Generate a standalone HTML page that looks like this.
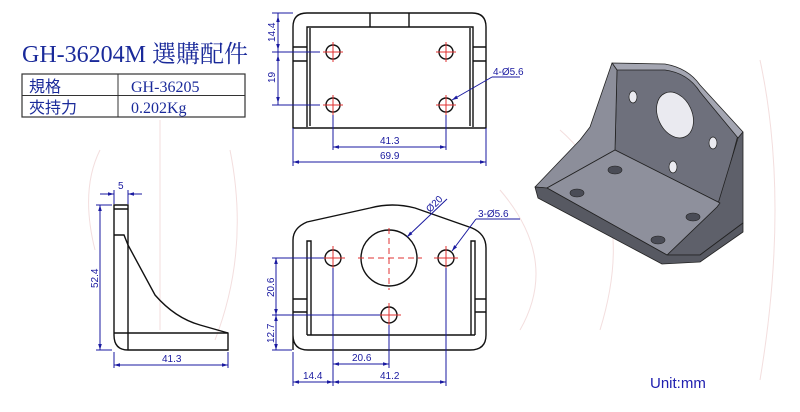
<!DOCTYPE html>
<html><head><meta charset="utf-8"><style>
html,body{margin:0;padding:0;background:#fff;}
svg{display:block;}
.b{stroke:#1a1aa0;stroke-width:1;fill:none;}
.k{stroke:#111;stroke-width:1.4;fill:none;}
.r{stroke:#e03030;stroke-width:1;fill:none;}
.rd{stroke:#e03030;stroke-width:1;fill:none;stroke-dasharray:6,4;}
.t{font-family:"Liberation Sans",sans-serif;font-size:10px;fill:#1a1aa0;}
</style></head><body>
<svg width="800" height="412" viewBox="0 0 800 412" xmlns="http://www.w3.org/2000/svg">
<defs>
<marker id="a" viewBox="0 0 10 10" refX="10" refY="5" markerWidth="6" markerHeight="6" orient="auto-start-reverse"><path d="M0,2 L10,5 L0,8z" fill="#1a1aa0"/></marker>
</defs>
<g stroke="#f3dede" stroke-width="1" fill="none">
<path d="M100,150 Q80,190 95,250 M160,120 L160,330 M230,150 Q250,250 215,340"/>
<path d="M500,190 Q560,260 520,330 M560,130 Q640,200 600,330 M760,60 Q790,200 760,380"/>
</g>
<text x="22" y="62" font-family="Liberation Serif,'Noto Serif CJK SC',serif" font-size="24" fill="#1a2a9a">GH-36204M 選購配件</text>
<g font-family="Liberation Serif,'Noto Sans CJK TC',serif" font-size="16" fill="#1a2a9a">
<rect x="22" y="74" width="223" height="43" fill="none" stroke="#333" stroke-width="1.2"/>
<line x1="22" y1="95.5" x2="245" y2="95.5" stroke="#333"/>
<line x1="118" y1="74" x2="118" y2="117" stroke="#333"/>
<text x="29" y="92">規格</text><text x="131" y="92">GH-36205</text>
<text x="29" y="113">夾持力</text><text x="131" y="113">0.202Kg</text>
</g>

<!-- TOP VIEW -->
<path class="k" d="M293,128 L293,27 Q293,13 307,13 L472,13 Q486,13 486,27 L486,128 Z"/>
<path class="k" d="M307,127 L307,27 L473,27 L473,127"/>
<line class="k" x1="310" y1="28" x2="310" y2="126" stroke-width="1"/>
<line class="k" x1="470" y1="28" x2="470" y2="126" stroke-width="1"/>
<line class="k" x1="370" y1="13" x2="370" y2="27"/><line class="k" x1="409" y1="13" x2="409" y2="27"/>
<path class="k" stroke-width="1" d="M293,47 L307,47 M293,61 L307,61 M473,47 L486,47 M473,61 L486,61"/>
<circle class="k" cx="333" cy="52" r="7"/><circle class="k" cx="446" cy="52" r="7"/>
<circle class="k" cx="333" cy="105" r="7"/><circle class="k" cx="446" cy="105" r="7"/>
<path class="r" d="M323,52h20M333,42v20M436,52h20M446,42v20M323,105h20M333,95v20M436,105h20M446,95v20"/>
<path class="b" d="M272,13h21M272,52h48M272,105h48M278,13v92"/>
<line class="b" x1="278" y1="16" x2="278" y2="50" marker-start="url(#a)" marker-end="url(#a)"/>
<line class="b" x1="278" y1="55" x2="278" y2="103" marker-start="url(#a)" marker-end="url(#a)"/>
<text class="t" transform="translate(275,42) rotate(-90)">14.4</text>
<text class="t" transform="translate(275,83) rotate(-90)">19</text>
<path class="b" d="M333,115v35M446,115v35M293,128v38M486,128v38"/>
<line class="b" x1="333" y1="147" x2="446" y2="147" marker-start="url(#a)" marker-end="url(#a)"/>
<line class="b" x1="293" y1="162" x2="486" y2="162" marker-start="url(#a)" marker-end="url(#a)"/>
<text class="t" x="380" y="144">41.3</text><text class="t" x="380" y="159">69.9</text>
<path class="b" d="M520,77 L492,77"/><line class="b" x1="492" y1="77" x2="452" y2="100" marker-end="url(#a)"/>
<text class="t" x="493" y="75">4-Ø5.6</text>

<!-- SIDE VIEW -->
<path class="k" d="M114,205 L128,205 L128,245 L155,295 Q175,318 200,325 L228,333 L228,350 L128,350 Q114,350 114,335 Z"/>
<path class="k" stroke-width="1" d="M114,209h14M114,235h10l4,10M128,245v105M114,333h114"/>
<path class="b" d="M114,190v14M128,190v14"/>
<line class="b" x1="100" y1="194" x2="114" y2="194" marker-end="url(#a)"/><line class="b" x1="142" y1="194" x2="128" y2="194" marker-end="url(#a)"/>
<text class="t" x="118" y="189">5</text>
<path class="b" d="M96,205h16M96,350h16"/>
<line class="b" x1="100" y1="205" x2="100" y2="350" marker-start="url(#a)" marker-end="url(#a)"/>
<text class="t" transform="translate(98,288) rotate(-90)">52.4</text>
<path class="b" d="M114,352v16M228,352v16"/>
<line class="b" x1="114" y1="365" x2="228" y2="365" marker-start="url(#a)" marker-end="url(#a)"/>
<text class="t" x="162" y="362">41.3</text>

<!-- FRONT VIEW -->
<path class="k" d="M293,350 L293,240 Q293,228 307,222 L370,208 Q392,202 415,208 L472,228 Q486,234 486,248 L486,335 Q486,350 470,350 L308,350 Q293,350 293,335"/>
<path class="k" stroke-width="1" d="M307,335 L307,241 L311,241 L311,335 M471,335 L471,241 L475,241 L475,335 M307,335 L475,335 M293,299h14M293,312h14M475,299h11M475,312h11"/>
<circle class="k" cx="389" cy="258" r="28"/>
<circle class="k" cx="333" cy="258" r="8"/><circle class="k" cx="446" cy="258" r="8"/><circle class="k" cx="389" cy="315" r="8"/>
<path class="rd" d="M358,258h64M389,228v62"/>
<path class="r" d="M321,258h24M333,246v24M434,258h24M446,246v24M377,315h24M389,303v24"/>
<path class="b" d="M272,258h52M272,315h108M272,350h20"/>
<line class="b" x1="276" y1="258" x2="276" y2="315" marker-start="url(#a)" marker-end="url(#a)"/>
<line class="b" x1="276" y1="315" x2="276" y2="350" marker-start="url(#a)" marker-end="url(#a)"/>
<text class="t" transform="translate(274,297) rotate(-90)">20.6</text>
<text class="t" transform="translate(274,343) rotate(-90)">12.7</text>
<path class="b" d="M333,268v118M389,325v43M446,268v118M293,352v34"/>
<line class="b" x1="333" y1="364" x2="389" y2="364" marker-start="url(#a)" marker-end="url(#a)"/>
<line class="b" x1="293" y1="382" x2="333" y2="382" marker-start="url(#a)" marker-end="url(#a)"/>
<line class="b" x1="333" y1="382" x2="446" y2="382" marker-start="url(#a)" marker-end="url(#a)"/>
<text class="t" x="352" y="361">20.6</text><text class="t" x="303" y="379">14.4</text><text class="t" x="380" y="379">41.2</text>
<line class="b" x1="447" y1="199" x2="407" y2="237" marker-end="url(#a)"/>
<text class="t" transform="translate(430,213) rotate(-45)">Ø20</text>
<path class="b" d="M520,219 L476,219"/><line class="b" x1="476" y1="219" x2="452" y2="251" marker-end="url(#a)"/>
<text class="t" x="478" y="217">3-Ø5.6</text>

<!-- 3D -->
<g stroke="#222" stroke-width="0.8" stroke-linejoin="round">
<!-- back plate face -->
<path d="M617,68 L665,68 Q690,72 700,90 L738,135 L720,203 L615,150 Z" fill="#6e707c"/>
<!-- back plate top edge -->
<path d="M612,63 L665,64 Q688,68 700,85 L743,132 L738,138 L700,92 Q688,73 665,70 L617,70 Z" fill="#a4a6b2"/>
<!-- left gusset -->
<path d="M612,63 L617,70 L615,150 L547,188 L535,187 L580,140 L590,127 Z" fill="#8c8e9a"/>
<!-- right gusset -->
<path d="M743,132 L743,223 L700,255 L667,255 L717,207 L738,138 Z" fill="#5e606a"/>
<!-- base top -->
<path d="M615,150 L720,203 L717,207 L667,255 L547,188 Z" fill="#8e909c"/>
<!-- base front thickness -->
<path d="M535,187 L547,188 L667,255 L700,255 L743,223 L743,232 L700,262 L662,264 L538,198 Z" fill="#575962"/>
</g>
<g fill="#eaeaf0" stroke="#222" stroke-width="0.7">
<ellipse cx="675" cy="115" rx="17" ry="24" transform="rotate(-25 675 115)"/>
<ellipse cx="633" cy="97" rx="4" ry="6"/><ellipse cx="713" cy="143" rx="4" ry="6"/><ellipse cx="673" cy="167" rx="4" ry="6"/>
</g>
<g fill="#4a4c56" stroke="#222" stroke-width="0.6">
<ellipse cx="615" cy="170" rx="7" ry="4"/><ellipse cx="577" cy="193" rx="7" ry="4"/>
<ellipse cx="693" cy="217" rx="7" ry="4"/><ellipse cx="658" cy="240" rx="7" ry="4"/>
</g>

<text x="650" y="388" font-family="Liberation Sans,sans-serif" font-size="15" fill="#2020b0">Unit:mm</text>
</svg>
</body></html>
